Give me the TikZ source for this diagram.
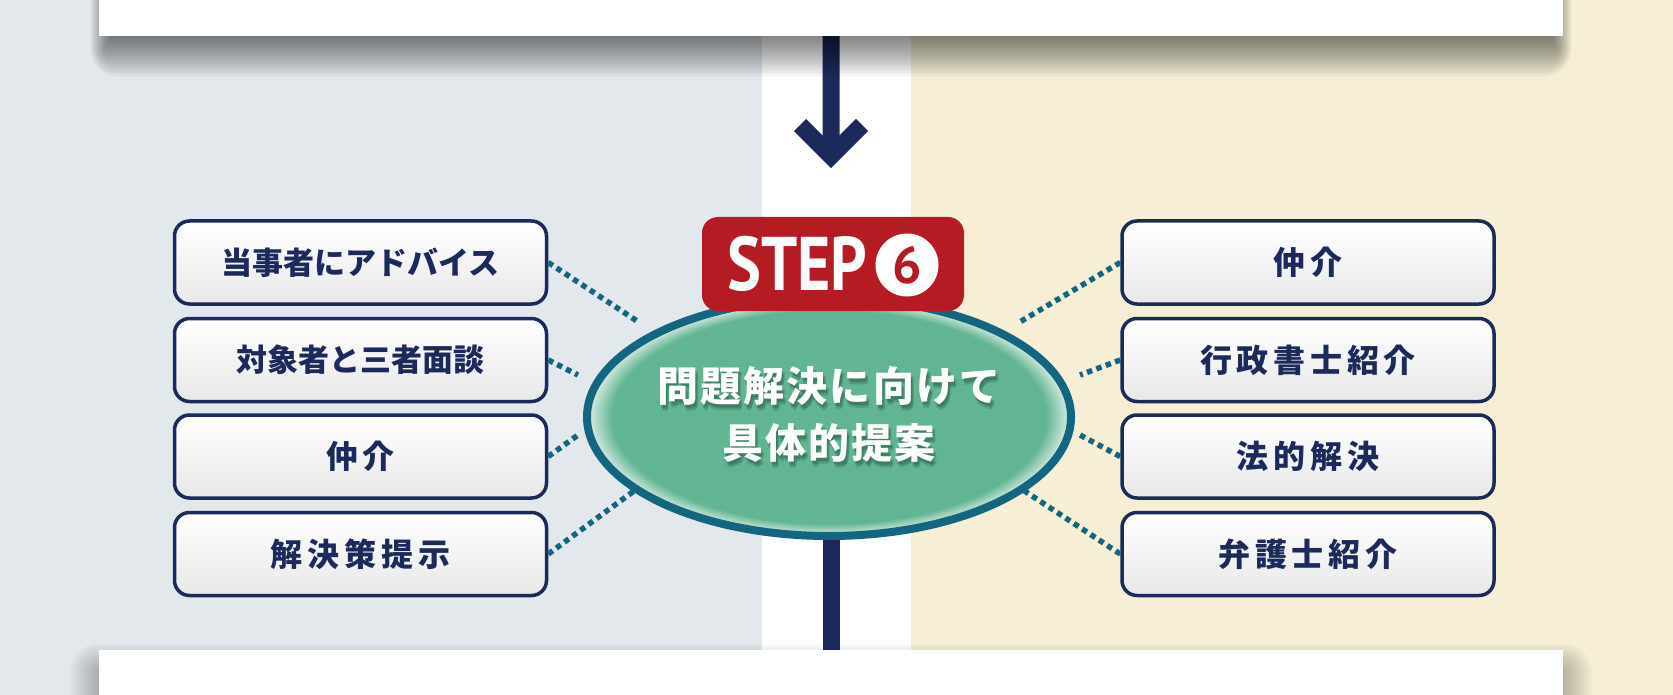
\documentclass[tikz,border=0pt]{standalone}
\usepackage{fontspec}
\usetikzlibrary{shapes.geometric,calc}
\newfontfamily\jp{Noto Sans CJK JP}
\newfontfamily\jpsp{Noto Sans CJK JP}[LetterSpace=15]
\newfontfamily\jpel{Noto Sans CJK JP}[LetterSpace=5]
\newfontfamily\stepf{PT Sans}
\definecolor{leftbg}{HTML}{E3E8ED}
\definecolor{rightbg}{HTML}{F6EFD6}
\definecolor{navy}{HTML}{1B2A5A}
\definecolor{dotteal}{HTML}{146580}
\definecolor{stepred}{HTML}{B51B23}
\definecolor{ellgreen}{HTML}{62B592}
\definecolor{shadowc}{HTML}{1E4A38}
\pgfdeclareradialshading{ellglow}{\pgfpoint{0bp}{0bp}}{color(0bp)=(ellgreen); color(22.4bp)=(ellgreen); color(25bp)=(ellgreen!20!white); color(50bp)=(white)}
\newcommand\elltext{問題解決に向けて\\具体的提案}
\tikzset{
  optbox/.style={rectangle, rounded corners=15pt, draw=navy, line width=3.5pt,
    top color=white, bottom color=black!9, minimum width=372pt, minimum height=83pt,
    inner sep=0pt, text=navy, font=\jp\bfseries\fontsize{31}{36}\selectfont},
  widebox/.style={optbox, font=\jpsp\bfseries\fontsize{32}{38}\selectfont},
  dots/.style={draw=dotteal, line width=5.5pt, dash pattern=on 5.5pt off 4.5pt},
  ellfont/.style={font=\jpel\bfseries\fontsize{41}{57}\selectfont, align=center, inner sep=0pt},
  navyline/.style={draw=navy, line width=17pt},
  ellstyle/.style={ellipse, minimum width=484pt, minimum height=238pt, draw=dotteal, line width=8pt, shading=ellglow, inner sep=0pt},
}
\begin{document}
\begin{tikzpicture}[x=1pt,y=-1pt]
\useasboundingbox (0,0) rectangle (1673,695);
% backgrounds
\fill[leftbg] (0,0) rectangle (762,695);
\fill[white] (762,0) rectangle (911,695);
\fill[rightbg] (911,0) rectangle (1673,695);

% top and bottom panels
\node[rectangle, fill=white, minimum width=1464pt, minimum height=80pt, anchor=south west, inner sep=0pt] (topbox) at (99,36) {};
\node[rectangle, fill=white, minimum width=1464pt, minimum height=80pt, anchor=north west, inner sep=0pt] (botbox) at (99,650) {};

% arrow
\coordinate (arrtip) at (831,156);
\draw[navyline] (topbox.south) -- (arrtip);
\draw[navyline, miter limit=10] ($(arrtip)+(-31,-31)$) -- (arrtip) -- ($(arrtip)+(31,-31)$);

% shadow of top panel
\foreach \k in {0,...,19}{
  \pgfmathsetmacro\e{28.5-3*\k}
  \pgfmathsetmacro\h{\e/2-6}
  \pgfmathsetmacro\r{max(\e,1)}
  \fill[black, opacity=0.042, rounded corners=\r pt] ({99-(\h)},-60) rectangle ({1563+(\h)},{48+(\e)});
}
% shadow of bottom panel
\foreach \k in {0,...,19}{
  \pgfmathsetmacro\e{28.5-3*\k}
  \pgfmathsetmacro\r{max(\e,1)}
  \fill[black, opacity=0.026, rounded corners=\r pt] ({99-(\e)},{672-(\e)}) rectangle ({1563+(\e)},760);
}
\fill[white] (topbox.south west) rectangle (topbox.north east);
\fill[white] (botbox.south west) rectangle (botbox.north east);

% option boxes
\node[optbox] (L1) at (360.5,262.5) {当事者にアドバイス};
\node[optbox] (L2) at (360.5,360) {対象者と三者面談};
\node[widebox] (L3) at (360.5,456.5) {仲介};
\node[widebox] (L4) at (360.5,554) {解決策提示};
\node[widebox] (R1) at (1308,262.5) {仲介};
\node[widebox] (R2) at (1308,360) {行政書士紹介};
\node[widebox] (R3) at (1308,456.5) {法的解決};
\node[widebox] (R4) at (1308,554) {弁護士紹介};

% connector ends near the ellipse
\coordinate (eL1) at (640,323);
\coordinate (eL2) at (578,375);
\coordinate (eL3) at (578,435);
\coordinate (eL4) at (638,488);
\coordinate (eR1) at (1018,323);
\coordinate (eR2) at (1080,375);
\coordinate (eR3) at (1080,435);
\coordinate (eR4) at (1020,488);
\foreach \n in {L1,L2,L3,L4}{\draw[dots] (\n.east) -- (e\n);}
\foreach \n in {R1,R2,R3,R4}{\draw[dots] (\n.west) -- (e\n);}

% ellipse and line to bottom panel
\coordinate (ellc) at (829,417);
\draw[navyline] (botbox.north |- ellc) -- (botbox.north);
\node[ellstyle] (ell) at (ellc) {};

% ellipse text with soft shadow
\foreach \dx/\dy [count=\i] in {1/3,3/4,2/6}{
  \node[ellfont, text=shadowc, opacity=0.22] (tsh\i) at (829+\dx,414+\dy) {\elltext};
}
\node[ellfont, text=white] (elltxt) at (829,414) {\elltext};

% STEP badge
\node[fill=stepred, rounded corners=16pt, minimum width=262pt, minimum height=94pt, inner sep=0pt] (badge) at (833,264) {};
\node[anchor=base west, inner sep=0pt, text=white, font=\stepf\bfseries\fontsize{76}{80}\selectfont] (steptxt) at (727,290) {\scalebox{0.84}[1]{STEP}};
\node[circle, fill=white, minimum size=63pt, inner sep=0pt, text=stepred, font=\stepf\bfseries\fontsize{52}{56}\selectfont] (six) at (907,265) {6};
\end{tikzpicture}
\end{document}
